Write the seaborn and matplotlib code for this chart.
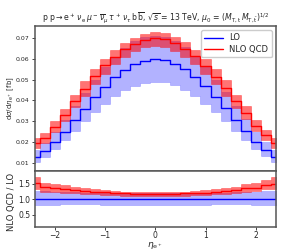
import numpy as np
import pandas as pd
import seaborn as sns
import matplotlib
matplotlib.use("Agg")
import matplotlib.pyplot as plt

# bin edges in eta_e+ (0.2 wide, centred on even tenths)
bin_edges = np.round(np.arange(-2.5, 2.51, 0.2), 2)

# LO central value per bin [fb]
lo_central = [0.0128, 0.0158, 0.0201, 0.0250, 0.0305, 0.0360, 0.0416, 0.0466,
              0.0512, 0.0547, 0.0575, 0.0591, 0.0598, 0.0593, 0.0576, 0.0550,
              0.0514, 0.0467, 0.0415, 0.0362, 0.0306, 0.0251, 0.0201, 0.0161,
              0.0129]

# values as read in the ratio panel (normalised to LO central)
lo_ratio_hi = [1.26, 1.25, 1.24, 1.23, 1.22, 1.21, 1.20, 1.20, 1.19, 1.19, 1.19, 1.19,
               1.19, 1.19, 1.19, 1.19, 1.19, 1.20, 1.20, 1.21, 1.22, 1.23, 1.24, 1.25,
               1.26]
lo_ratio_lo = [0.82, 0.82, 0.82, 0.83, 0.83, 0.83, 0.83, 0.82, 0.82, 0.82, 0.82, 0.82,
               0.82, 0.82, 0.82, 0.82, 0.82, 0.82, 0.83, 0.83, 0.83, 0.83, 0.82, 0.82,
               0.82]
nlo_ratio = [1.52, 1.38, 1.35, 1.32, 1.30, 1.27, 1.24, 1.22, 1.19, 1.18, 1.17, 1.17,
             1.17, 1.17, 1.17, 1.18, 1.19, 1.21, 1.24, 1.27, 1.29, 1.36, 1.37, 1.45,
             1.50]
nlo_ratio_hi = [1.72, 1.53, 1.49, 1.44, 1.40, 1.37, 1.33, 1.29, 1.25, 1.24, 1.22, 1.22,
                1.22, 1.22, 1.22, 1.24, 1.25, 1.28, 1.33, 1.37, 1.39, 1.48, 1.51, 1.61,
                1.70]
nlo_ratio_lo = [1.34, 1.24, 1.23, 1.20, 1.20, 1.17, 1.15, 1.13, 1.12, 1.11, 1.11, 1.11,
                1.11, 1.11, 1.11, 1.11, 1.12, 1.13, 1.15, 1.17, 1.19, 1.24, 1.25, 1.31,
                1.32]

x_ticks = [-2, -1, 0, 1, 2]
main_yticks = [0.01, 0.02, 0.03, 0.04, 0.05, 0.06, 0.07]
ratio_yticks = [0.5, 1.0, 1.5]

LO_COLOR = "#0000ff"
NLO_COLOR = "#ff0000"


def ext(v):
    # repeat last value so step drawing covers the final bin
    v = np.asarray(v, dtype=float)
    return np.append(v, v[-1])


def draw_step(ax, vals, color, label=None):
    df = pd.DataFrame({"x": bin_edges, "y": ext(vals)})
    sns.lineplot(data=df, x="x", y="y", ax=ax, color=color, lw=1.0,
                 drawstyle="steps-post", estimator=None, label=label,
                 legend=False)


def draw_band(ax, lo, hi, color, alpha):
    ax.fill_between(bin_edges, ext(lo), ext(hi), step="post", color=color,
                    alpha=alpha, lw=0.4)


sns.set_theme(style="ticks")
plt.rcParams["font.family"] = ["DejaVu Sans"]
plt.rcParams["mathtext.fontset"] = "dejavusans"

fig = plt.figure(figsize=(2.88, 2.52), dpi=100)
ax = fig.add_axes([0.12, 0.321, 0.838, 0.576])
axr = fig.add_axes([0.12, 0.099, 0.838, 0.222], sharex=ax)

lo_c = np.array(lo_central)
nlo_c = lo_c * np.array(nlo_ratio)

# main panel
draw_band(ax, lo_c * np.array(lo_ratio_lo), lo_c * np.array(lo_ratio_hi), LO_COLOR, 0.3)
draw_band(ax, lo_c * np.array(nlo_ratio_lo), lo_c * np.array(nlo_ratio_hi), NLO_COLOR, 0.55)
draw_step(ax, lo_c, LO_COLOR, "LO")
draw_step(ax, nlo_c, NLO_COLOR, "NLO QCD")

# ratio panel
draw_band(axr, lo_ratio_lo, lo_ratio_hi, LO_COLOR, 0.3)
draw_band(axr, nlo_ratio_lo, nlo_ratio_hi, NLO_COLOR, 0.55)
draw_step(axr, np.ones(len(lo_central)), LO_COLOR)
draw_step(axr, nlo_ratio, NLO_COLOR)

ax.set_xlim(-2.4, 2.4)
ax.set_ylim(0.006, 0.0758)
axr.set_ylim(0.1, 1.9)

ax.set_yticks(main_yticks)
ax.set_yticklabels([f"{t:.2f}" for t in main_yticks])
axr.set_yticks(ratio_yticks)
axr.set_xticks(x_ticks)
axr.set_xticklabels([f"{t}" if t >= 0 else f"\u2212{abs(t)}" for t in x_ticks])

ax.tick_params(axis="y", labelsize=4.5, length=2, width=0.6, pad=1.5)
ax.tick_params(axis="x", labelbottom=False, length=3, width=0.6)
axr.tick_params(axis="both", labelsize=5.5, length=2, width=0.6, pad=1)

for a in (ax, axr):
    for s in a.spines.values():
        s.set_color("#555555")
        s.set_linewidth(1.1)

ax.set_xlabel("")
ax.set_ylabel(r"d$\sigma$/d$\eta_{\rm e^+}$ [fb]", fontsize=5)
axr.set_ylabel("NLO QCD / LO", fontsize=6)
axr.set_xlabel(r"$\eta_{\rm e^+}$", fontsize=6.5)
ax.yaxis.set_label_coords(-0.075, 0.5)
axr.yaxis.set_label_coords(-0.075, 0.45)
axr.xaxis.set_label_coords(0.5, -0.24)

ax.set_title(r"p p$\rightarrow$e$^+\,\nu_{\rm e}\,\mu^-\,\overline{\nu}_\mu\,\tau^+\,\nu_\tau\,$b$\,\overline{\rm b}$, "
             r"$\sqrt{s}$ = 13 TeV, $\mu_0$ = $(M_{\rm T,t}\,M_{\rm T,\bar{t}})^{1/2}$",
             fontsize=5.6, pad=3)

ax.legend(loc="upper right", fontsize=6, handlelength=2.2, borderpad=0.4,
          labelspacing=0.3, frameon=True, fancybox=True, framealpha=1,
          edgecolor="#cccccc")

fig.savefig("out.png", dpi=100)
